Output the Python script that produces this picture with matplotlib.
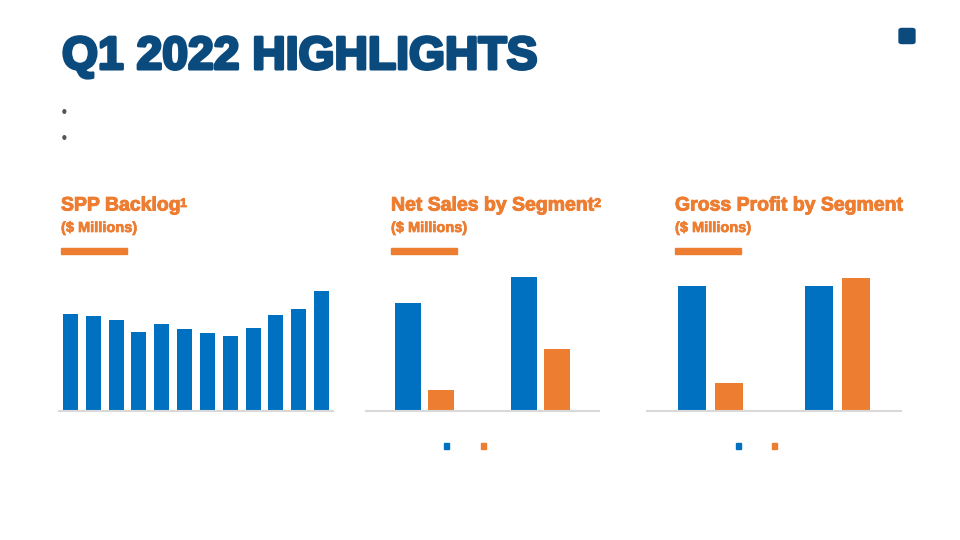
import matplotlib
matplotlib.use("Agg")
import matplotlib.pyplot as plt
import matplotlib.patheffects as pe
import numpy as np
from matplotlib.patches import FancyBboxPatch, Patch

# values (no labels shown, relative bar heights)
backlog_periods = ["Q1 19", "Q2 19", "Q3 19", "Q4 19", "Q1 20", "Q2 20",
                   "Q3 20", "Q4 20", "Q1 21", "Q2 21", "Q3 21", "Q4 21"]
backlog_values = [97, 95, 91, 79, 87, 82, 78, 75, 83, 96, 102, 120]

segments = ["SPP", "Infrastructure"]
periods = ["Q1 2021", "Q1 2022"]
net_sales_spp = [108, 134]
net_sales_infra = [21, 62]
gross_profit_spp = [125, 125]
gross_profit_infra = [28, 133]

BLUE = "#0070C0"
ORANGE = "#ED7D31"
NAVY = "#0B4A7C"
GRID = "#D9D9D9"

W, H = 960, 540
fig = plt.figure(figsize=(9.6, 5.4), dpi=100)
fig.patch.set_facecolor("white")
renderer = fig.canvas.get_renderer()


def px_axes(left, top, right, bottom):
    # axes rect from pixel coordinates (origin top-left)
    return fig.add_axes([left / W, 1 - bottom / H, (right - left) / W, (bottom - top) / H])


def style(ax, ymax):
    ax.set_ylim(0, ymax)
    for s in ["top", "right", "left"]:
        ax.spines[s].set_visible(False)
    ax.spines["bottom"].set_color(GRID)
    ax.spines["bottom"].set_linewidth(1.5)
    ax.set_xticks([])
    ax.set_yticks([])
    ax.patch.set_alpha(0)


# header
fig.text(62 / W, 1 - 57 / H, "Q1 2022 HIGHLIGHTS", color=NAVY, fontsize=33.3,
         fontweight="bold", family="Liberation Sans", va="center", ha="left",
         path_effects=[pe.withStroke(linewidth=2.2, foreground=NAVY)])
for yb in [114, 139]:
    fig.text(60 / W, 1 - yb / H, "\u2022", color="#555555", fontsize=10.5, va="center", ha="left")
fig.patches.append(FancyBboxPatch((900 / W, 1 - 43 / H), 14 / W, 14 / H,
                                  boxstyle="round,pad=0.001,rounding_size=0.003",
                                  transform=fig.transFigure, color=NAVY))


def header(x, title, sup=None):
    t = fig.text(x / W, 1 - 206 / H, title, color=ORANGE, fontsize=14, fontweight="bold",
                 family="Liberation Sans", va="center", ha="left",
                 path_effects=[pe.withStroke(linewidth=0.7, foreground=ORANGE)])
    if sup:
        bb = t.get_window_extent(renderer)
        fig.text((bb.x1 - 0.5) / W, 1 - 198 / H, sup, color=ORANGE, fontsize=9,
                 fontweight="bold", family="Liberation Sans", va="top", ha="left",
                 path_effects=[pe.withStroke(linewidth=0.6, foreground=ORANGE)])
    fig.text(x / W, 1 - 228 / H, "($ Millions)", color=ORANGE, fontsize=10.5,
             fontweight="bold", family="Liberation Sans", va="center", ha="left",
             path_effects=[pe.withStroke(linewidth=0.5, foreground=ORANGE)])
    fig.patches.append(plt.Rectangle((x / W, 1 - 254 / H), 66 / W, 6 / H,
                                     transform=fig.transFigure, color=ORANGE))


header(61, "SPP Backlog", "1")
header(391, "Net Sales by Segment", "2")
header(675, "Gross Profit by Segment")

# backlog chart
ax1 = px_axes(59, 271, 333, 411)
x = np.arange(len(backlog_values))
ax1.bar(x, backlog_values, width=0.66, color=BLUE)
ax1.set_xlim(-0.5, len(backlog_values) - 0.5)
style(ax1, 140)


def grouped(ax, a, b, ymax, leg_x):
    xs = np.arange(len(periods))
    w = 0.222
    ax.bar(xs - 0.143, a, width=w, color=BLUE)
    ax.bar(xs + 0.143, b, width=w, color=ORANGE)
    ax.set_xlim(-0.5, 1.5)
    style(ax, ymax)
    handles = [Patch(color=BLUE), Patch(color=ORANGE)]
    ax.legend(handles, ["     ", "     "], ncol=2, loc="center",
              bbox_to_anchor=(leg_x, -0.254), frameon=False, fontsize=8,
              handlelength=0.45, handleheight=0.45, columnspacing=0.85, handletextpad=0.4)


ax2 = px_axes(366, 271, 599, 411)
grouped(ax2, net_sales_spp, net_sales_infra, 140, 0.472)

ax3 = px_axes(647, 271, 901, 411)
grouped(ax3, gross_profit_spp, gross_profit_infra, 140, 0.475)

fig.savefig("out.png", dpi=100, facecolor="white")
